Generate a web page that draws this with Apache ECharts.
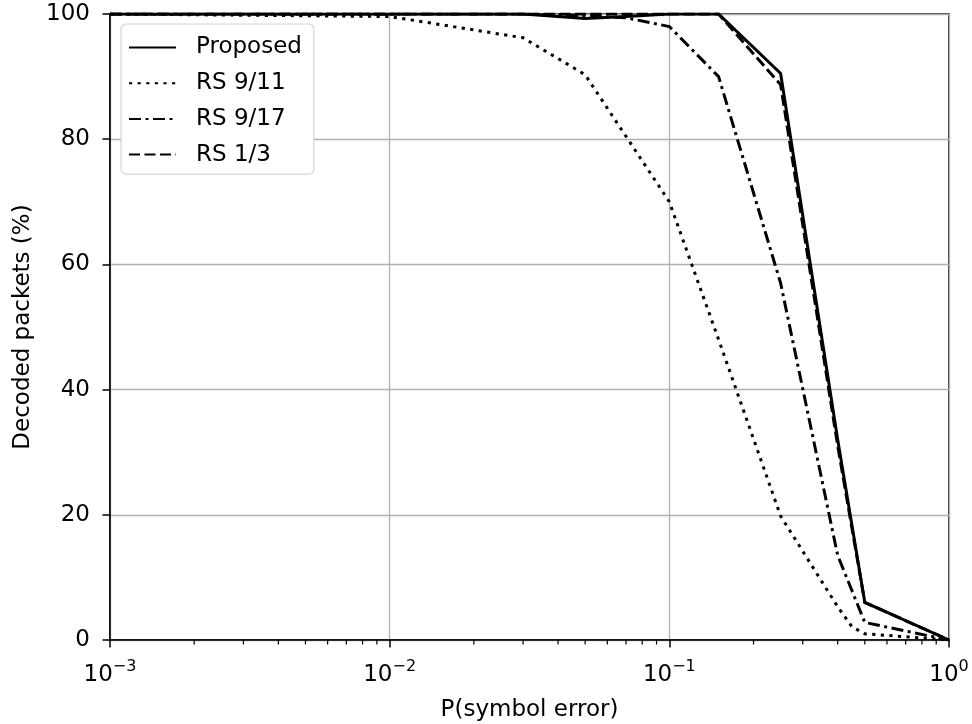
<!DOCTYPE html>
<html>
<head>
<meta charset="utf-8">
<script src="https://cdn.jsdelivr.net/npm/echarts@6/dist/echarts.min.js"></script>
<style>
html,body{margin:0;padding:0;background:#fff;}
#chart{width:972px;height:724px;}
</style>
</head>
<body>
<div id="chart"></div>
<script>
// ---- data ----
const seriesNames = ['Proposed', 'RS 9/11', 'RS 9/17', 'RS 1/3'];
const proposed = [[0.001,100],[0.01,100],[0.03,100],[0.05,99.3],[0.07,99.6],[0.1,100],[0.15,100],[0.25,90.5],[0.4,32],[0.5,6],[1.0,0]];
const rs911    = [[0.001,100],[0.01,99.6],[0.03,96.2],[0.05,90.3],[0.1,70],[0.15,48],[0.25,19.8],[0.4,5.3],[0.45,2.1],[0.5,1.0],[1.0,0]];
const rs917    = [[0.001,100],[0.01,100],[0.03,100],[0.05,99.7],[0.07,99.4],[0.1,98],[0.15,90],[0.25,57],[0.4,13.5],[0.5,2.8],[1.0,0]];
const rs13     = [[0.001,100],[0.01,100],[0.03,100],[0.05,100],[0.1,100],[0.15,100],[0.25,88.7],[0.4,31],[0.5,6],[1.0,0]];
const yTicks = [0, 20, 40, 60, 80, 100];
const xMajorTicks = [0.001, 0.01, 0.1, 1];
const xMinorTicks = [0.002,0.003,0.004,0.005,0.006,0.007,0.008,0.009,
                     0.02,0.03,0.04,0.05,0.06,0.07,0.08,0.09,
                     0.2,0.3,0.4,0.5,0.6,0.7,0.8,0.9];

const FONT = 'DejaVu Sans';
const FS = 23;
const chart = echarts.init(document.getElementById('chart'), null, {renderer: 'canvas'});

function lineSeries(name, data, type) {
  return {
    name: name, type: 'line', data: data, symbol: 'none',
    lineStyle: {color: '#000', width: 3, type: type, cap: 'butt', join: 'miter'},
    itemStyle: {color: '#000'},
    z: 3
  };
}

const option = {
  animation: false,
  backgroundColor: '#fff',
  textStyle: {fontFamily: FONT},
  grid: {left: 110, right: 23, top: 14, bottom: 84, show: true, borderColor: '#000', borderWidth: 1.5,
         backgroundColor: 'transparent', containLabel: false, outerBoundsMode: 'none'},
  legend: {
    data: seriesNames,
    orient: 'vertical',
    left: 121, top: 24,
    padding: [12, 12, 8, 7],
    itemWidth: 47, itemHeight: 14, itemGap: 12.7,
    backgroundColor: '#fff',
    borderColor: '#d5d5d5', borderWidth: 1.2, borderRadius: 5,
    itemStyle: {opacity: 0, color: 'rgba(0,0,0,0)', borderWidth: 0},
    textStyle: {fontFamily: FONT, fontSize: FS, color: '#000', lineHeight: 23, padding: [0, 0, 0, 15]}
  },
  xAxis: {
    type: 'log', logBase: 10, min: 0.001, max: 1,
    name: 'P(symbol error)', nameLocation: 'middle', nameGap: 59,
    nameTextStyle: {fontFamily: FONT, fontSize: FS, color: '#000'},
    axisLine: {lineStyle: {color: '#000', width: 1.5}},
    axisTick: {show: true, length: 7.5, lineStyle: {color: '#000', width: 1.5}},
    axisLabel: {
      margin: 19, color: '#000',
      formatter: function (v) {
        const e = Math.round(Math.log10(v));
        const s = e < 0 ? '\u2212' + (-e) : String(e);
        return '{b|10}{s|' + s + '}';
      },
      rich: {
        b: {fontFamily: FONT, fontSize: FS, color: '#000', lineHeight: 28, verticalAlign: 'bottom'},
        s: {fontFamily: FONT, fontSize: 16, color: '#000', lineHeight: 28, verticalAlign: 'top'}
      }
    },
    splitLine: {show: true, lineStyle: {color: '#b0b0b0', width: 1.3}}
  },
  yAxis: {
    type: 'value', min: 0, max: 100, interval: 20,
    name: 'Decoded packets (%)', nameLocation: 'middle', nameGap: 75,
    nameTextStyle: {fontFamily: FONT, fontSize: FS, color: '#000'},
    axisLine: {show: true, lineStyle: {color: '#000', width: 1.5}},
    axisTick: {show: true, length: 7.5, lineStyle: {color: '#000', width: 1.5}},
    axisLabel: {margin: 20, padding: [4, 0, 0, 0], fontFamily: FONT, fontSize: FS, color: '#000',
      formatter: function (v) { return yTicks.indexOf(v) >= 0 ? String(v) : ''; }},
    splitLine: {show: true, lineStyle: {color: '#b0b0b0', width: 1.3}}
  },
  series: [
    lineSeries(seriesNames[0], proposed, 'solid'),
    lineSeries(seriesNames[1], rs911, [3.2, 5.4]),
    lineSeries(seriesNames[2], rs917, [12, 4.5, 3, 4.5]),
    lineSeries(seriesNames[3], rs13, [11, 4.5]),
    {
      name: 'minorTicks', type: 'custom', silent: true, clip: false, z: 5,
      data: xMinorTicks.map(function (v) { return [v, 0]; }),
      renderItem: function (params, api) {
        const p = api.coord([api.value(0), api.value(1)]);
        return {
          type: 'line',
          shape: {x1: p[0], y1: p[1], x2: p[0], y2: p[1] + 4.5},
          style: {stroke: '#000', lineWidth: 1.2}
        };
      }
    }
  ]
};
chart.setOption(option);
</script>
</body>
</html>
